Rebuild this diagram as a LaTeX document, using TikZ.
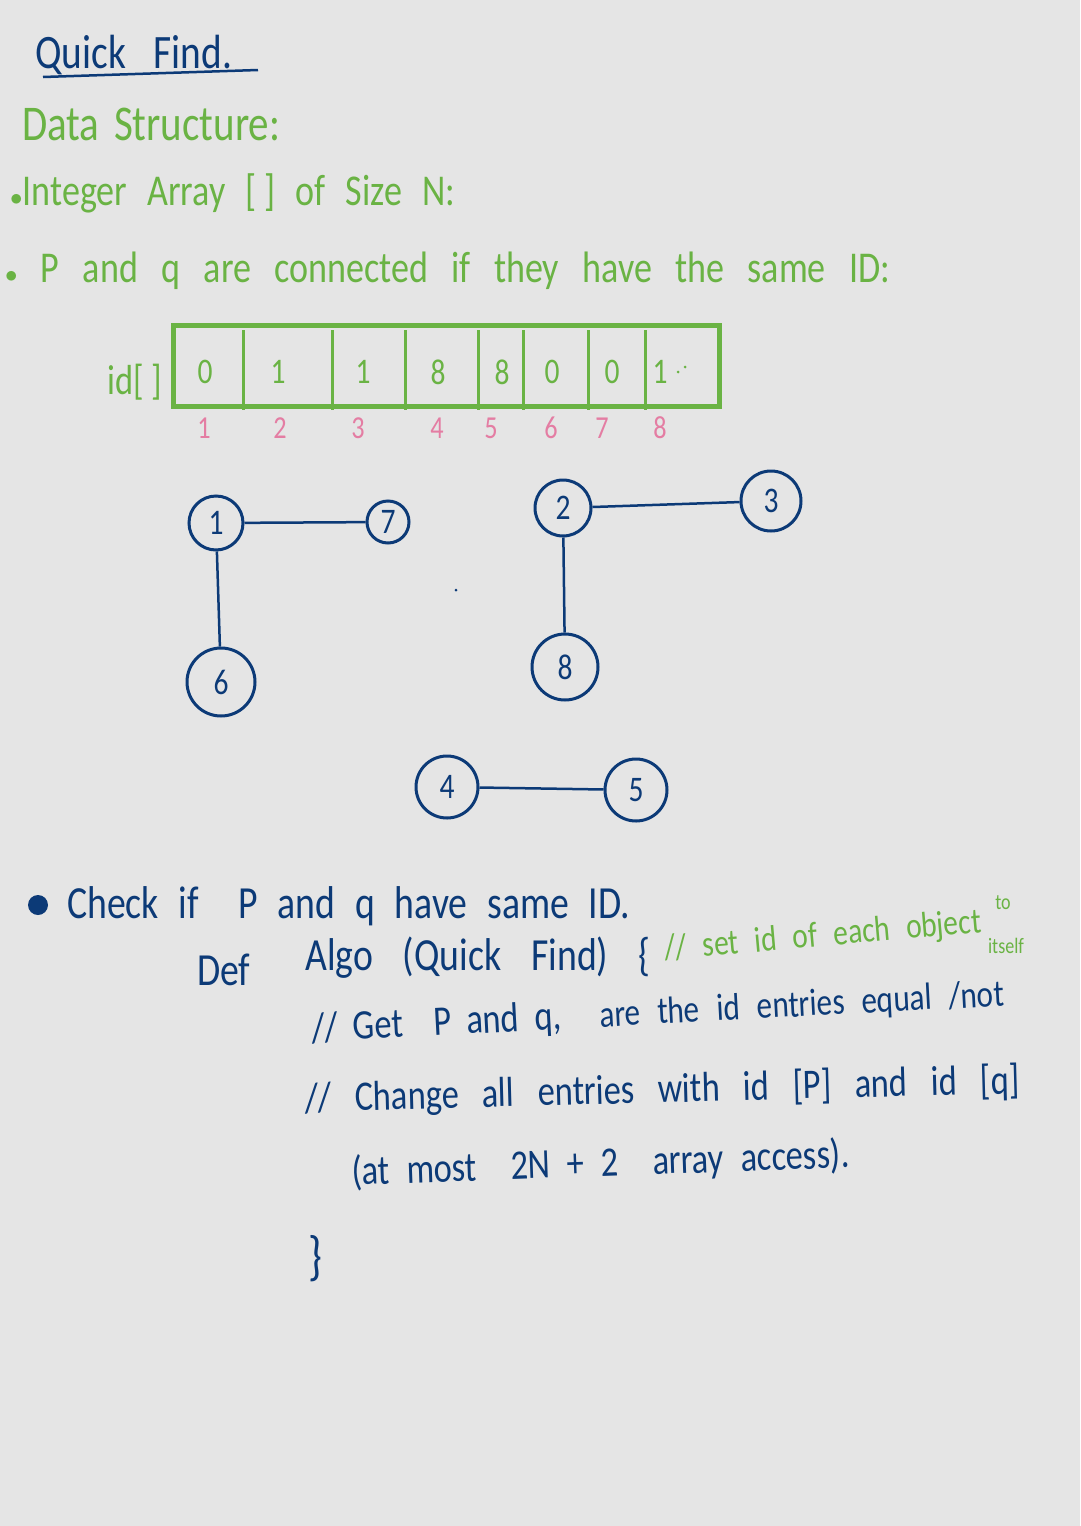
\documentclass[tikz,border=0pt]{standalone}
\usepackage{fontspec}
\setmainfont{Carlito}[FakeStretch=0.82]
\usetikzlibrary{positioning}
\definecolor{inkblue}{HTML}{0C3A77}
\definecolor{inkgreen}{HTML}{6AB344}
\definecolor{inkpink}{HTML}{E47DA3}
\definecolor{paper}{HTML}{E5E5E5}
\newcommand{\hsz}[1]{\fontsize{#1}{#1}\selectfont}
\newcommand{\wline}[2]{\makebox[#1][s]{#2}}
\tikzset{
  blueink/.style={text=inkblue,inner sep=0pt},
  greenink/.style={text=inkgreen,inner sep=0pt},
  vert/.style={draw=inkblue,line width=3pt,circle,minimum size=56pt,inner sep=0pt,text=inkblue,font=\hsz{36}},
  link/.style={draw=inkblue,line width=2.5pt}
}
\begin{document}
\begin{tikzpicture}[x=1pt,y=-1pt]
\fill[paper] (0,0) rectangle (1080,1526);
\useasboundingbox (0,0) rectangle (1080,1526);
% heading
\node[blueink,anchor=base west,font=\hsz{48}] (title) at (35,68) {\wline{197pt}{Quick Find.}};
\draw[inkblue,line width=2.5pt] (43,77) -- (258,70);
\node[greenink,anchor=base west,font=\hsz{50}] (ds) at (22,140) {\wline{258pt}{Data Structure:}};
\node[greenink,anchor=base west,font=\hsz{44}] (arr) at (10,205) {\wline{445pt}{$\bullet$Integer Array [\,] of Size N:}};
\node[greenink,anchor=base west,font=\hsz{44}] (conn) at (5,282) {\wline{885pt}{$\bullet$ P and q are connected if they have the same ID:}};
% id array
\node[greenink,anchor=base east,font=\hsz{42}] (idlab) at (162,394) {id[\,]};
\node[draw=inkgreen,line width=5pt,minimum width=546pt,minimum height=81pt] (idbox) at (446,365.5) {};
\foreach \x in {243,332,405,478,523,588,645}
  \draw[inkgreen,line width=3pt] (\x,330) -- (\x,410);
\foreach \x/\v [count=\i] in {205/0,278/1,363/1,438/8,502/8,552/0,612/0,660/1}{
  \node[greenink,font=\hsz{36}] (val\i) at (\x,372) {\v};
  }
\fill[inkgreen] (678,372) circle (1.5) (685,367) circle (1.5);
\foreach \x [count=\i] in {204,280,358,437,491,551,602,660}{
  \node[text=inkpink,font=\hsz{32}] (idx\i) at (\x,428) {\i};
  }
% components
\node[vert,minimum size=54pt] (n1) at (216,523) {1};
\node[vert,minimum size=42pt] (n7) at (388,522) {7};
\node[vert,minimum size=68pt] (n6) at (221,682) {6};
\node[vert,minimum size=56pt] (n2) at (563,508) {2};
\node[vert,minimum size=60pt] (n3) at (771,501) {3};
\node[vert,minimum size=66pt] (n8) at (565,667) {8};
\node[vert,minimum size=62pt] (n4) at (447,787) {4};
\node[vert,minimum size=62pt] (n5) at (636,790) {5};
\draw[link] (n1) -- (n7);
\draw[link] (n1) -- (n6);
\draw[link] (n2) -- (n3);
\draw[link] (n2) -- (n8);
\draw[link] (n4) -- (n5);
\fill[inkblue] (456,590) circle (1.5);
% algorithm
\fill[inkblue] (38,905) circle (10);
\node[blueink,anchor=base west,font=\hsz{46}] (chk) at (67,918) {\wline{563pt}{Check if \ P and q have same ID.}};
\node[blueink,anchor=base west,font=\hsz{46}] (def) at (197,985) {Def};
\node[blueink,anchor=base west,font=\hsz{46}] (algo) at (305,970) {\wline{345pt}{Algo (Quick Find) \{}};
\node[greenink,anchor=base west,rotate=5,font=\hsz{36}] (cmt) at (665,960) {\wline{318pt}{// set id of each object}};
\node[greenink,font=\hsz{22}] (cto) at (1003,903) {to};
\node[greenink,font=\hsz{22}] (cits) at (1006,946) {itself};
\node[blueink,anchor=base west,rotate=3,font=\hsz{42}] (get) at (312,1042) {\wline{250pt}{// Get \ P and q,}};
\node[blueink,anchor=base west,rotate=3,font=\hsz{38}] (get2) at (600,1027) {\wline{405pt}{are the id entries equal /not}};
\node[blueink,anchor=base west,rotate=1.5,font=\hsz{42}] (chg) at (305,1112) {\wline{715pt}{// Change all entries with id [P] and id [q]}};
\node[blueink,anchor=base west,rotate=2,font=\hsz{42}] (most) at (352,1185) {\wline{498pt}{(at most \ 2N + 2 \ array access).}};
\node[blueink,anchor=base west,font=\hsz{54}] (close) at (308,1274) {\}};
\end{tikzpicture}
\end{document}
